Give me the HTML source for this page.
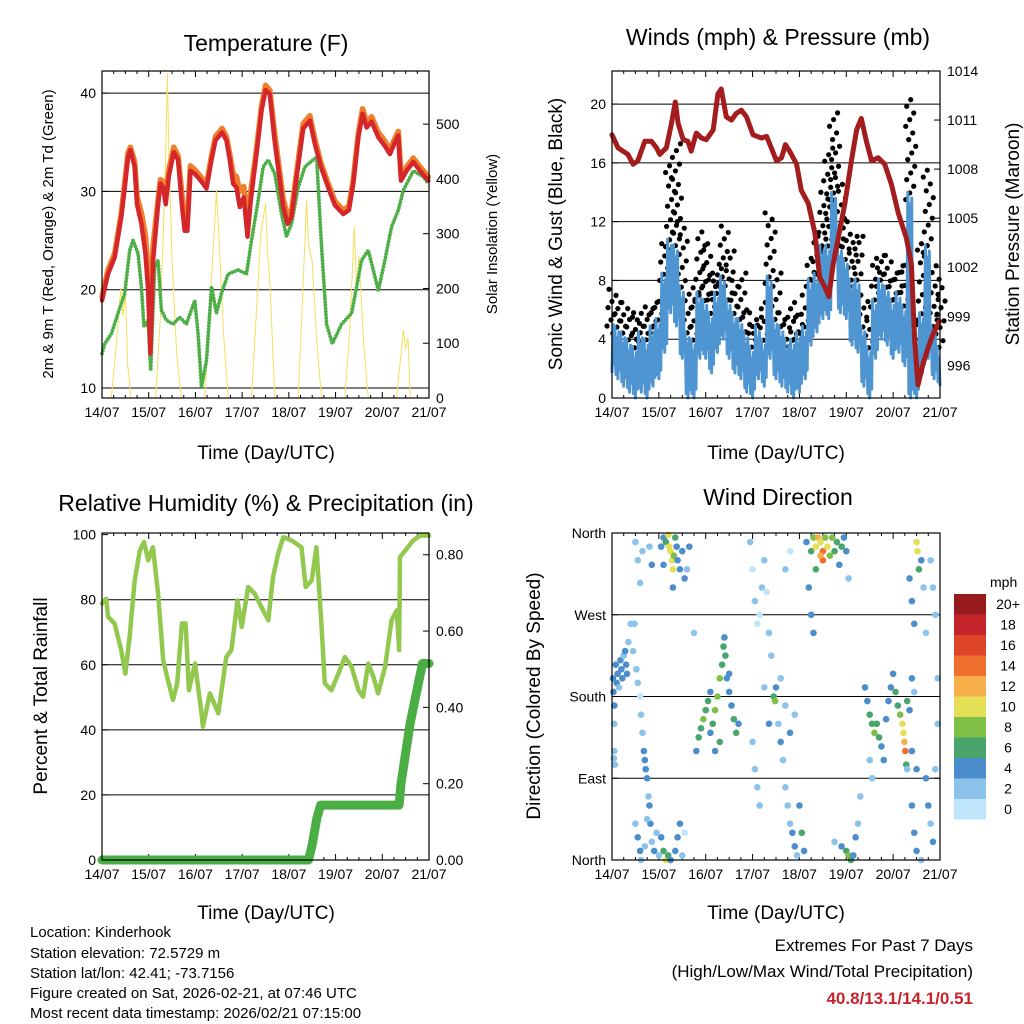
<!DOCTYPE html>
<html><head><meta charset="utf-8"><style>
html,body{margin:0;padding:0;background:#fff;}
svg{display:block;font-family:"Liberation Sans",sans-serif;}
</style></head><body>
<svg id="chart" width="1024" height="1024" viewBox="0 0 1024 1024" xmlns="http://www.w3.org/2000/svg">
<rect x="0" y="0" width="1024" height="1024" fill="#fff"/>
<text x="266" y="51" font-size="23" text-anchor="middle">Temperature (F)</text>
<text x="778" y="45" font-size="23" text-anchor="middle">Winds (mph) &amp; Pressure (mb)</text>
<text x="266" y="511" font-size="23" text-anchor="middle">Relative Humidity (%) &amp; Precipitation (in)</text>
<text x="778" y="505" font-size="23" text-anchor="middle">Wind Direction</text>
<text x="266" y="459" font-size="19" text-anchor="middle">Time (Day/UTC)</text>
<text x="776" y="459" font-size="19" text-anchor="middle">Time (Day/UTC)</text>
<text x="266" y="919" font-size="19" text-anchor="middle">Time (Day/UTC)</text>
<text x="776" y="919" font-size="19" text-anchor="middle">Time (Day/UTC)</text>
<text transform="translate(53,234) rotate(-90)" font-size="15" text-anchor="middle">2m &amp; 9m T (Red, Orange) &amp; 2m Td (Green)</text>
<text transform="translate(497,234) rotate(-90)" font-size="15" text-anchor="middle">Solar Insolation (Yellow)</text>
<text transform="translate(562,234) rotate(-90)" font-size="19" text-anchor="middle">Sonic Wind &amp; Gust (Blue, Black)</text>
<text transform="translate(1019,234) rotate(-90)" font-size="19" text-anchor="middle">Station Pressure (Maroon)</text>
<text transform="translate(47,696) rotate(-90)" font-size="19" text-anchor="middle">Percent &amp; Total Rainfall</text>
<text transform="translate(540,696) rotate(-90)" font-size="19" text-anchor="middle">Direction (Colored By Speed)</text>
<g font-size="15">
<text x="30" y="937">Location: Kinderhook</text>
<text x="30" y="958">Station elevation: 72.5729 m</text>
<text x="30" y="978">Station lat/lon: 42.41; -73.7156</text>
<text x="30" y="998">Figure created on Sat, 2026-02-21, at 07:46 UTC</text>
<text x="30" y="1018">Most recent data timestamp: 2026/02/21 07:15:00</text>
</g>
<g font-size="17" text-anchor="end">
<text x="973" y="951">Extremes For Past 7 Days</text>
<text x="973" y="977">(High/Low/Max Wind/Total Precipitation)</text>
<text x="973" y="1004" fill="#c8242c" font-weight="bold">40.8/13.1/14.1/0.51</text>
</g>
</svg>
<script>
// ---- data ----
const dayLabels = ["14/07","15/07","16/07","17/07","18/07","19/07","20/07","21/07"];
const tempT = [0,.129,.271,.414,.486,.557,.607,.7,.75,.843,.929,.986,1.036,1.093,1.2,1.25,1.307,1.364,1.429,1.536,1.629,1.714,1.771,1.829,1.893,1.986,2.129,2.236,2.343,2.429,2.571,2.664,2.736,2.807,2.879,2.95,3.036,3.114,3.186,3.307,3.414,3.5,3.593,3.686,3.786,3.879,3.971,4.057,4.186,4.307,4.45,4.557,4.686,4.843,4.986,5.164,5.286,5.379,5.486,5.579,5.664,5.771,5.914,6.043,6.164,6.271,6.343,6.4,6.521,6.664,6.807,6.986];
const tempRed = [18.9,21.6,23.3,27.4,30.4,33.5,34.2,32.5,28.7,26.7,23.7,20.0,13.5,23.0,28.7,30.8,30.4,28.7,31.5,34.0,33.2,28.4,26.0,26.0,32.1,31.8,31.0,30.3,33.2,35.2,36.0,35.2,33.2,30.8,30.4,28.4,29.4,25.4,29.1,33.8,38.2,40.3,39.9,35.5,31.8,28.4,26.7,27.4,32.1,36.4,37.2,34.8,32.5,30.4,28.6,27.7,28.1,30.8,35.5,37.9,36.5,37.1,35.5,34.7,33.8,35.0,35.7,31.1,32.1,33.0,32.1,31.1];
const tempOrange = [19.3,22.0,23.7,27.8,30.8,33.9,34.5,33.0,29.5,27.8,25.5,22.0,17.0,24.5,29.2,31.2,31.0,29.8,32.2,34.5,33.6,29.5,27.0,27.0,32.6,32.2,31.4,30.7,33.6,35.6,36.4,35.6,33.8,31.8,31.5,30.0,30.5,27.0,30.0,34.3,38.7,40.8,40.3,36.3,32.6,29.2,27.6,28.0,32.6,36.9,37.7,35.3,32.9,30.8,29.0,28.1,28.5,31.2,35.9,38.4,37.0,37.6,36.0,35.2,34.2,35.4,36.1,31.6,32.5,33.4,32.5,31.5];
const dewT = [0,.057,.2,.343,.486,.593,.664,.771,.843,.9,.986,1.043,1.129,1.2,1.271,1.379,1.521,1.664,1.807,1.986,2.057,2.129,2.236,2.343,2.45,2.557,2.7,2.914,3.093,3.2,3.343,3.45,3.557,3.7,3.843,3.95,4.057,4.2,4.343,4.593,4.7,4.807,4.929,5.129,5.343,5.557,5.7,5.807,5.914,6.057,6.2,6.343,6.45,6.664,6.879,6.986];
const tempDew = [13.5,14.5,15.5,17.6,19.6,24.0,25.0,23.7,20.3,16.2,16.9,11.8,22.3,23.0,17.9,16.9,16.5,17.2,16.5,18.9,15.5,10.1,12.8,20.3,17.6,19.6,21.6,22.0,21.6,25.0,29.1,32.5,33.2,31.8,27.7,25.4,26.7,30.4,32.5,33.5,24.3,16.5,14.5,16.5,17.6,23.0,24.0,22.0,19.9,23.0,26.4,28.1,30.1,32.1,31.5,30.8];
const solarT = [0,.2,.3,.4,.45,.5,.55,.62,1.15,1.25,1.35,1.4,1.43,1.5,1.6,1.7,2.2,2.3,2.4,2.45,2.5,2.6,2.7,3.2,3.3,3.4,3.5,3.55,3.6,3.7,4.2,4.3,4.38,4.42,4.5,4.6,4.7,5.2,5.3,5.4,5.45,5.5,5.6,5.7,6.3,6.4,6.45,6.5,6.55,6.6,7];
const solarV = [0,0,90,200,150,190,60,0,0,150,400,592,450,250,80,0,0,150,300,380,300,120,0,0,150,300,355,260,200,0,0,200,361,280,250,100,0,0,120,313,200,260,100,0,0,80,124,90,110,0,0];
const windHigh = [5.4,4.9,4.5,4.0,3.5,4.5,4.0,4.9,5.4,8.5,10.8,10.4,7.6,4.5,4.0,7.2,6.7,5.8,7.2,8.3,6.7,5.8,5.4,4.5,3.5,4.9,4.0,8.3,5.4,4.9,4.0,4.0,4.5,4.9,8.1,8.5,10.4,10.4,14.0,10.4,9.5,8.1,8.1,4.9,3.5,6.7,8.1,7.6,6.7,7.2,6.3,14.0,3.5,5.8,10.4,4.9,3.5];
const windLow = [1.7,1.3,0.8,0.4,0,0.4,0,0.8,1.3,3.1,5.8,4.9,2.7,0,0,2.7,2.7,1.7,3.1,4.0,2.7,1.7,1.3,0.4,0,1.3,0.8,2.7,1.3,0.8,0.4,0,0.4,1.3,3.6,4.5,5.4,5.4,9.5,5.8,5.4,3.6,3.1,0.8,0,2.7,4.0,3.6,2.7,3.1,2.2,0,0,1.7,2.7,1.3,0.8];
const gustHigh = [7.4,6.5,6.5,5.8,5.5,6.2,5.8,6.5,7,10.5,15.8,17.3,12,7.5,7,11.3,10.5,8.5,8.8,11.7,10,8,8.5,6,5.8,5.5,6.5,12.6,8.5,5.8,5.5,6.5,5.5,7,9.5,11,14,17,19.4,15,12,11,11,7,5.5,9.5,9.7,9.7,8.5,9,9.5,20.3,5,10.5,15.5,9,7.5];
const presT = [0,.128,.34,.45,.55,.7,.84,.95,1.02,1.16,1.27,1.35,1.41,1.52,1.62,1.69,1.8,1.91,2.01,2.16,2.26,2.33,2.44,2.55,2.65,2.76,2.87,3.01,3.19,3.3,3.4,3.51,3.62,3.7,3.79,3.94,4.04,4.19,4.33,4.43,4.54,4.63,4.72,4.83,4.97,5.11,5.22,5.32,5.43,5.54,5.68,5.82,5.96,6.11,6.28,6.39,6.46,6.53,6.64,6.75,6.85,6.99];
const pressure = [1010.1,1009.3,1008.9,1008.3,1008.5,1009.7,1009.7,1009.3,1008.9,1009.3,1010.8,1012.1,1010.8,1009.8,1009.7,1009.1,1010.2,1009.9,1009.8,1010.4,1012.6,1012.9,1011.2,1011.0,1011.4,1011.6,1011.2,1010.1,1009.9,1010.0,1009.3,1008.5,1008.7,1009.5,1009.1,1008.3,1006.7,1005.9,1004.1,1001.4,1000.8,1000.2,1002.2,1003.8,1005.9,1008.5,1010.4,1011.1,1009.7,1008.5,1008.7,1008.3,1007.1,1005.3,1003.8,1002.2,997.5,994.8,996.1,997.1,997.9,998.7];
const rhT = [0,.09,.13,.27,.41,.5,.59,.7,.81,.9,.99,1.09,1.2,1.31,1.41,1.52,1.61,1.71,1.79,1.86,1.99,2.13,2.16,2.31,2.49,2.66,2.77,2.9,2.99,3.13,3.27,3.41,3.56,3.66,3.77,3.88,4.06,4.27,4.36,4.49,4.59,4.7,4.77,4.91,5.06,5.2,5.34,5.49,5.59,5.7,5.81,5.91,6.06,6.2,6.31,6.36,6.38,6.49,6.66,6.81,7];
const rhVals = [78.8,80.3,74.7,72.7,64.5,57.3,68.6,85.9,95.1,97.7,92.1,96.1,81.8,61.4,55.3,49.2,54.3,72.7,72.7,52.2,60.4,45.1,41.0,51.2,45.1,62.4,64.5,79.8,71.6,83.9,81.8,77.8,73.7,86.9,94.1,99.2,98.2,96.1,83.9,85.9,96.1,71.6,54.3,52.2,57.3,62.4,59.4,52.2,50.2,60.4,56.3,51.2,59.4,73.7,76.7,64.5,93.1,95.1,98.2,99.7,99.7];
const precipT = [0,4.42,4.5,4.6,4.68,6.36,6.4,6.5,6.6,6.7,6.8,6.86,7.0];
const precipV = [0,0,0.04,0.11,0.144,0.144,0.2,0.28,0.36,0.42,0.48,0.515,0.515];
const dirT = [0.02,0.03,0.05,0.05,0.08,0.1,0.12,0.15,0.18,0.2,0.22,0.25,0.28,0.3,0.32,0.35,0.4,0.45,0.48,0.52,0.55,0.6,0.62,0.65,0.68,0.7,0.72,0.75,0.78,0.8,0.82,0.05,0.06,0.04,
0.5,0.55,0.6,0.62,0.7,0.75,0.85,0.9,0.95,1.0,1.05,1.1,1.15,1.2,1.25,1.35,1.4,1.45,1.5,1.55,
0.5,0.55,0.6,0.65,0.8,0.85,
1.05,1.1,1.15,1.2,1.22,1.25,1.28,1.3,1.32,1.35,1.38,1.4,1.45,1.5,1.55,1.6,1.65,1.3,1.1,
1.8,1.85,1.9,1.95,2.0,2.05,2.1,2.1,2.15,2.2,2.25,2.3,2.35,2.38,2.4,2.42,2.45,2.5,2.55,2.6,2.65,2.7,2.5,2.3,2.2,1.75,
2.95,3.0,3.05,3.1,3.15,3.2,3.25,3.3,3.35,3.4,3.45,3.48,3.5,3.55,3.6,3.65,3.7,3.75,3.8,3.85,3.9,3.95,3.0,3.05,3.1,3.15,3.25,3.35,3.6,3.7,3.8,3.9,3.8,3.7,4.0,4.05,4.1,
4.15,4.2,4.25,4.3,4.25,4.3,4.35,4.4,4.45,4.5,4.5,4.55,4.6,4.65,4.7,4.75,4.8,4.85,4.9,4.95,5.0,5.05,4.35,4.45,
5.0,5.05,5.1,5.15,4.9,4.75,5.2,5.25,5.3,
5.4,5.45,5.5,5.55,5.6,5.65,5.7,5.75,5.8,5.85,5.9,5.95,6.0,6.05,6.1,6.15,6.2,6.22,6.24,6.26,6.28,6.3,6.35,6.4,6.45,5.5,5.55,6.4,6.5,
6.35,6.4,6.45,6.5,6.52,6.55,6.6,6.65,6.7,6.8,6.85,6.9,6.95,6.7,6.75,6.8,6.85,6.9,6.95,6.4,6.45,6.5,6.6,6.3];
const dirDeg = [200,185,170,150,215,195,205,190,220,210,200,225,230,215,205,240,260,230,260,210,195,180,160,140,120,110,100,90,70,60,40,120,105,112,
40,25,10,0,15,45,20,10,30,5,25,10,0,5,0,10,25,40,5,30,
350,330,305,340,345,325,
345,355,350,358,345,340,330,320,335,355,345,330,320,340,310,320,345,300,325,
120,135,145,155,165,175,185,140,150,165,180,200,215,235,245,225,200,185,170,155,140,150,205,130,120,250,
350,320,285,260,270,300,330,295,250,225,180,175,190,150,130,110,80,60,40,30,15,5,130,100,80,60,190,150,200,170,140,160,340,320,60,30,10,
350,300,270,250,340,355,345,355,350,340,330,355,345,335,355,340,350,325,345,355,340,310,320,335,
10,5,0,5,15,20,25,40,70,
190,175,160,150,140,150,135,125,110,155,175,190,205,185,170,160,150,140,130,120,105,175,165,200,185,110,90,120,100,
310,285,260,350,340,320,330,300,250,330,300,270,200,90,60,40,20,100,150,60,30,10,0,100];
const dirSpd = [3,4,4,2,3,3,4,2,3,4,3,2,3,4,3,2,1,2,1,2,2,0,1,2,3,4,3,4,2,4,3,2,2,2,
2,3,4,2,2,1,2,4,2,2,3,6,10,6,4,3,4,4,2,0,
1,1,1,2,1,4,
4,4,6,9,10,10,9,10,8,6,4,3,4,3,4,2,3,4,4,
4,5,6,7,6,5,4,4,5,7,8,7,6,5,4,6,4,4,4,5,6,4,3,5,4,2,
1,0,1,0,0,1,1,0,1,2,6,7,4,2,3,1,2,1,2,3,4,2,1,2,1,1,2,3,1,2,3,1,0,1,3,6,4,
4,4,4,4,6,8,9,12,10,14,13,8,9,7,7,6,5,4,6,4,3,2,6,11,
6,7,6,4,3,2,3,2,2,
3,4,5,6,7,6,5,4,3,3,4,4,4,5,6,8,9,10,12,14,6,6,4,3,2,2,1,4,3,
4,4,4,10,9,6,4,2,2,2,2,2,2,3,3,2,3,2,1,4,4,3,2,1];
const speedLabels = ["0","2","4","6","8","10","12","14","16","18","20+"];
const speedColors = ["#bfe6f8","#8cc3ea","#4b8ecb","#4aa56c","#7dbf47","#e4df56","#f6ae49","#ef6f2f","#dd4428","#c4242a","#971a1c"];

// ---- helpers ----
const NS = "http://www.w3.org/2000/svg";
const svg = document.getElementById("chart");
function mk(tag, attrs, parent){
  const e = document.createElementNS(NS, tag);
  for (const k in attrs) e.setAttribute(k, attrs[k]);
  (parent || svg).appendChild(e);
  return e;
}
function panel(x0,x1,y0,y1){
  return {x0,x1,y0,y1,
    x:t=>x0+t/7*(x1-x0),
    lin:(lo,hi)=>v=>y1-(v-lo)/(hi-lo)*(y1-y0)};
}
const P1 = panel(102,429,71,398), P2 = panel(612,940,71,398), P3 = panel(102,429,533,860), P4 = panel(612,940,533,860);
const yT = P1.lin(8.98,42.25), yS = P1.lin(0,597);
const yW = P2.lin(0,22.25), yP = P2.lin(994.0,1014.0);
const yR = P3.lin(0,100.5), yPr = P3.lin(0,0.857);
const yD = P4.lin(0,360);
function tOf(i){ return i*0.125; }

function frame(P, name){
  const g = mk("g", {});
  
  
  dayLabels.forEach((lab,i)=>{
    const x = P.x(i);
    mk("line",{x1:x,x2:x,y1:P.y1,y2:P.y1-6,stroke:"#000","stroke-width":1},g);
    mk("line",{x1:x,x2:x,y1:P.y0,y2:P.y0+6,stroke:"#000","stroke-width":1},g);
    for(let m=1;m<4;m++){ if(i<7){ const xm=P.x(i+m/4);
      mk("line",{x1:xm,x2:xm,y1:P.y1,y2:P.y1-3,stroke:"#000"},g);
      mk("line",{x1:xm,x2:xm,y1:P.y0,y2:P.y0+3,stroke:"#000"},g);} }
    const t = mk("text",{x:x,y:P.y1+19,"font-size":14,"text-anchor":"middle"},g);
    t.textContent = lab;
  });
  return g;
}
function hgrid(P, vals, yf, g){
  vals.forEach(v=>{ const y=yf(v); mk("line",{x1:P.x0,x2:P.x1,y1:y,y2:y,stroke:"#000","stroke-width":1},g); });
}
function ylabels(P, vals, yf, fmt, side, g){
  vals.forEach(v=>{
    const y=yf(v);
    const xa = side==="l"?P.x0:P.x1;
    mk("line",{x1:xa,x2:xa+(side==="l"?6:-6),y1:y,y2:y,stroke:"#000"},g);
    const t=mk("text",{x:side==="l"?P.x0-6:P.x1+7,y:y+5,"font-size":14,"text-anchor":side==="l"?"end":"start"},g);
    t.textContent=fmt(v);
  });
}
function border(P){
  const r = mk("rect",{x:P.x0,y:P.y0,width:P.x1-P.x0,height:P.y1-P.y0,fill:"none",stroke:"#000","stroke-width":1.2});
  
  
}
function line(P, ts, vs, yf, attrs, name){
  const pts = vs.map((v,i)=>P.x(ts[i]).toFixed(1)+","+yf(v).toFixed(1)).join(" ");
  const a = Object.assign({points:pts,fill:"none","stroke-linejoin":"round","stroke-linecap":"round"}, attrs);
  const pl = mk("polyline", a);
  
  
  return pl;
}

// ---- panel 1: temperature ----
let g1 = frame(P1,"temperature");
hgrid(P1,[10,20,30,40],yT,g1);
ylabels(P1,[10,20,30,40],yT,v=>v,"l",g1);
ylabels(P1,[0,100,200,300,400,500],yS,v=>v,"r",g1);
line(P1, solarT, solarV, yS, {stroke:"#f5df5c","stroke-width":1}, "solar-insolation-line");
line(P1, dewT, tempDew, yT, {stroke:"#4eae47","stroke-width":3.8,"stroke-dasharray":"0 3.2"}, "dewpoint-line");
line(P1, tempT, tempOrange, yT, {stroke:"#f07f2b","stroke-width":5.5}, "temp-9m-line");
line(P1, tempT, tempRed, yT, {stroke:"#d4262b","stroke-width":4.5}, "temp-2m-line");
border(P1);

// ---- panel 2: winds ----
let g2 = frame(P2,"winds");
hgrid(P2,[4,8,12,16,20],yW,g2);
ylabels(P2,[0,4,8,12,16,20],yW,v=>v,"l",g2);
ylabels(P2,[996,999,1002,1005,1008,1011,1014],yP,v=>v,"r",g2);
const gustG = mk("g",{});


gustHigh.forEach((v,i)=>{
  const base = windHigh[i]-0.5;
  const n = Math.max(2, Math.round((v-base)/0.45));
  for(let j=0;j<=n;j++){
    const val = base + (v-base)*j/n;
    const dx = ((j*37)%11)-5;
    const c = mk("circle",{cx:P2.x(tOf(i))+dx,cy:yW(val),r:2.6,fill:"#000"},gustG);
    
    
  }
});
(function(){
  const pts=[];
  windHigh.forEach((h,i)=>{
    const lo = windLow[i];
    const x = P2.x(tOf(i));
    const step = (P2.x(0.125)-P2.x(0))/6;
    for(let j=0;j<6;j++){
      const v = (j%2===0)? h - (j%3)*0.4 : lo + (j%3)*0.3;
      pts.push((x-step*3+j*step).toFixed(1)+","+yW(Math.max(0,v)).toFixed(1));
    }
  });
  const pl = mk("polyline",{points:pts.filter(p=>{const x=parseFloat(p);return x>=P2.x0&&x<=P2.x1;}).join(" "),fill:"none",stroke:"#4f95d1","stroke-width":3,"stroke-linejoin":"round"});
  
  
})();
line(P2, presT, pressure, yP, {stroke:"#a31d1f","stroke-width":5}, "pressure-line");
border(P2);

// ---- panel 3: RH & precip ----
let g3 = frame(P3,"humidity");
hgrid(P3,[20,40,60,80],yR,g3);
ylabels(P3,[0,20,40,60,80,100],yR,v=>v,"l",g3);
ylabels(P3,[0,0.2,0.4,0.6,0.8],yPr,v=>v.toFixed(2),"r",g3);
line(P3, rhT, rhVals, yR, {stroke:"#93c84f","stroke-width":4.5}, "relative-humidity-line");
line(P3, precipT, precipV, yPr, {stroke:"#4aae45","stroke-width":9}, "precipitation-line");
border(P3);

// ---- panel 4: wind direction ----
let g4 = frame(P4,"wind-direction");
hgrid(P4,[90,180,270],yD,g4);
const dirNames = ["North","East","South","West","North"];
[0,90,180,270,360].forEach((v,i)=>{
  const y=yD(v);
  mk("line",{x1:P4.x0,x2:P4.x0+6,y1:y,y2:y,stroke:"#000"},g4);
  mk("line",{x1:P4.x1,x2:P4.x1-6,y1:y,y2:y,stroke:"#000"},g4);
  const t=mk("text",{x:P4.x0-6,y:y+5,"font-size":14,"text-anchor":"end"},g4);
  t.textContent=dirNames[i];
});
function spdColor(s){ return speedColors[Math.min(10, Math.max(0, Math.round(s/2)))]; }
dirDeg.forEach((d,i)=>{
  const c = mk("circle",{cx:P4.x(dirT[i]),cy:yD(d),r:3.3,fill:spdColor(dirSpd[i])});
  
  
});
border(P4);

// colorbar
const cb = mk("g",{});


const cbt = mk("text",{x:990,y:587,"font-size":14,"text-anchor":"start"},cb);
cbt.textContent = "mph";
speedLabels.forEach((lab,i)=>{
  const y = 799 - i*20.5;
  mk("rect",{x:954,y:y,width:32,height:20.5,fill:speedColors[i]},cb);
  const t = mk("text",{x:1008,y:y+15,"font-size":14,"text-anchor":"middle"},cb);
  t.textContent = lab;
});
</script>
</body></html>
